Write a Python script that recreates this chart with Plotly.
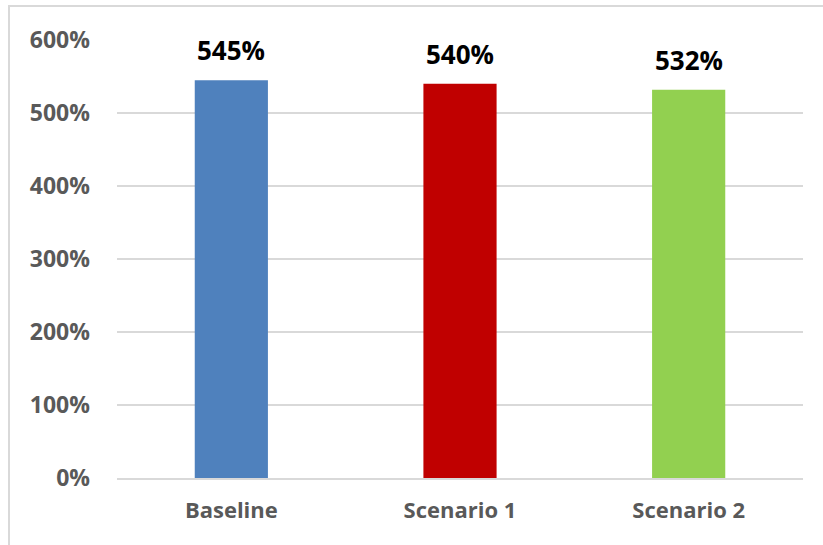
import plotly.graph_objects as go

categories = ["Baseline", "Scenario 1", "Scenario 2"]
values = [545, 540, 532]
colors = ["#4f81bd", "#c00000", "#92d050"]
y_ticks = [0, 100, 200, 300, 400, 500, 600]

FONT = "Open Sans"

fig = go.Figure()
fig.add_trace(go.Bar(
    x=categories, y=values, marker=dict(color=colors, line=dict(width=0)),
    hoverinfo="skip",
))

for c, v in zip(categories, values):
    fig.add_annotation(
        x=c, y=v, text=f"{v}%", showarrow=False, yanchor="bottom", yshift=10,
        font=dict(family=FONT, size=26, color="#000000", weight="bold"),
    )

L, R, T, B = 117, 20, 40, 67
W, H = 823, 545
pw, ph = W - L - R, H - T - B

fig.add_shape(
    type="rect", xref="paper", yref="paper",
    x0=(9 - L) / pw, x1=1.5, y0=-0.5, y1=(H - B - 6) / ph,
    line=dict(color="#d9d9d9", width=2), fillcolor="rgba(0,0,0,0)", layer="below",
)

fig.update_layout(
    width=W, height=H,
    margin=dict(l=L, r=R, t=T, b=B),
    paper_bgcolor="white", plot_bgcolor="white",
    bargap=0.68, showlegend=False,
    xaxis=dict(
        showgrid=False, showline=True, linecolor="#d9d9d9", linewidth=2,
        tickfont=dict(family=FONT, size=22, color="#595959", weight="bold"),
        ticks="", ticklabelstandoff=12,
    ),
    yaxis=dict(
        range=[0, 600], tickvals=y_ticks, ticktext=[f"{t}%" for t in y_ticks],
        showgrid=True, gridcolor="#d9d9d9", gridwidth=2,
        zeroline=False, showline=False,
        tickfont=dict(family=FONT, size=23, color="#595959", weight="bold"),
        ticks="", ticklabelstandoff=26,
    ),
)

fig.write_html("out.html")
